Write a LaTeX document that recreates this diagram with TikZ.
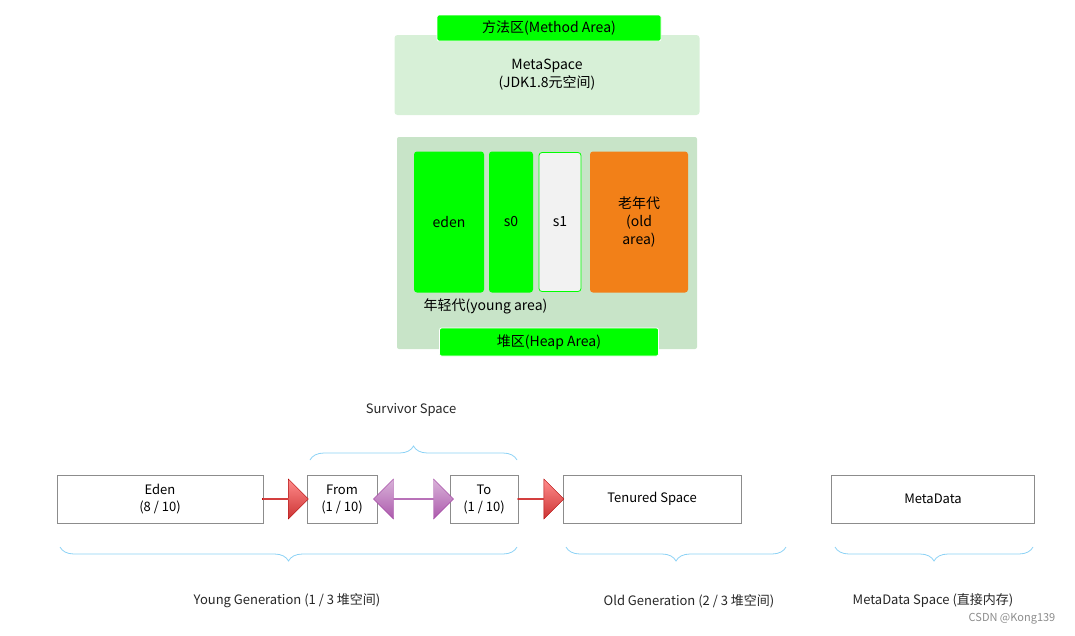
\documentclass[tikz,border=0pt]{standalone}
\usepackage{fontspec}
\setmainfont{Noto Sans CJK SC}
\usetikzlibrary{shapes.arrows, decorations.pathreplacing, calc}
\definecolor{lgreen}{RGB}{0,255,0}
\definecolor{paleg}{RGB}{215,240,215}
\definecolor{heapg}{RGB}{200,228,200}
\definecolor{oldor}{RGB}{242,128,24}
\definecolor{brc}{RGB}{140,210,245}
\tikzstyle{tag}=[fill=lgreen, draw=white, thick, rounded corners=2pt, inner sep=0pt,
    font=\fontsize{14}{16}\selectfont]
\tikzstyle{gen}=[rounded corners=3pt, inner sep=0pt, align=center,
    font=\fontsize{14}{18}\selectfont]
\tikzstyle{blk}=[draw=black!45, fill=white, inner sep=0pt, align=center,
    font=\fontsize{13}{17}\selectfont]
\tikzstyle{brc}=[draw=brc, thick, decorate,
    decoration={brace, amplitude=14pt, aspect=0.5}]
\tikzstyle{lbl}=[font=\fontsize{13}{15}\selectfont, text=black!85]
\tikzstyle{red}=[single arrow, draw=red!70!black, top color=red!45, bottom color=red!75!black!80,
    minimum height=46, minimum width=40, single arrow head extend=7, inner sep=0pt,
    shape border uses incircle]
\begin{document}
\begin{tikzpicture}[x=1pt, y=-1pt]
    \useasboundingbox (0,0) rectangle (1075,635);
    % method area
    \node (meta) [gen, fill=paleg, minimum width=305, minimum height=80] at (547,75)
        {MetaSpace\\(JDK1.8元空间)};
    \node (method) [tag, minimum width=224, minimum height=26] at (549,28) {方法区(Method Area)};
    % heap
    \node (heap) [fill=heapg, rounded corners=2pt, minimum width=300, minimum height=212] at (547,243) {};
    \node (eden) [gen, fill=lgreen, minimum width=70, minimum height=141] at (449,222) {eden};
    \node (s0) [gen, fill=lgreen, minimum width=44, minimum height=141] at (511,222) {s0};
    \node (s1) [gen, fill=black!5, draw=lgreen, thick, minimum width=42, minimum height=139] at (560,222) {s1};
    \node (old) [gen, fill=oldor, minimum width=98, minimum height=141] at (639,222) {老年代\\(old\\area)};
    \node (young) [anchor=west, font=\fontsize{14}{16}\selectfont] at (420,306) {年轻代(young area)};
    \node (heaptag) [tag, minimum width=219, minimum height=28] at (549,342) {堆区(Heap Area)};
    % generations
    \node (Eden) [blk, minimum width=206, minimum height=48] at (160,499) {Eden\\(8 / 10)};
    \node (from) [blk, minimum width=70, minimum height=48] at (342,499) {From\\(1 / 10)};
    \node (to) [blk, minimum width=68, minimum height=48] at (484,499) {To\\(1 / 10)};
    \node (ten) [blk, minimum width=178, minimum height=48] at (652,499) {Tenured Space};
    \node (md) [blk, minimum width=203, minimum height=48] at (933,499) {MetaData};
    \node (a1) [red] at ($(Eden.east)!0.5!(from.west)$) {};
    \node (a2) [red] at ($(to.east)!0.5!(ten.west)$) {};
    \node (a3) [double arrow, draw=violet!70, top color=violet!30, bottom color=violet!65,
        minimum height=80, minimum width=40, double arrow head extend=7, inner sep=0pt,
        shape border uses incircle] at ($(from.east)!0.5!(to.west)$) {};
    % braces
    \draw [brc] (310,460) -- (517,460);
    \node (surv) [lbl] at (411,410) {Survivor Space};
    \draw [brc] (517,547) -- (60,547);
    \node (yg) [lbl] at (287,601) {Young Generation (1 / 3 堆空间)};
    \draw [brc] (786,547) -- (566,547);
    \node (og) [lbl] at (689,601) {Old Generation (2 / 3 堆空间)};
    \draw [brc] (1033,547) -- (835,547);
    \node (ms) [lbl] at (933,601) {MetaData Space (直接内存)};
    \node (wm) [font=\fontsize{11}{13}\selectfont, text=black!45] at (1012,619) {CSDN @Kong139};
\end{tikzpicture}
\end{document}
